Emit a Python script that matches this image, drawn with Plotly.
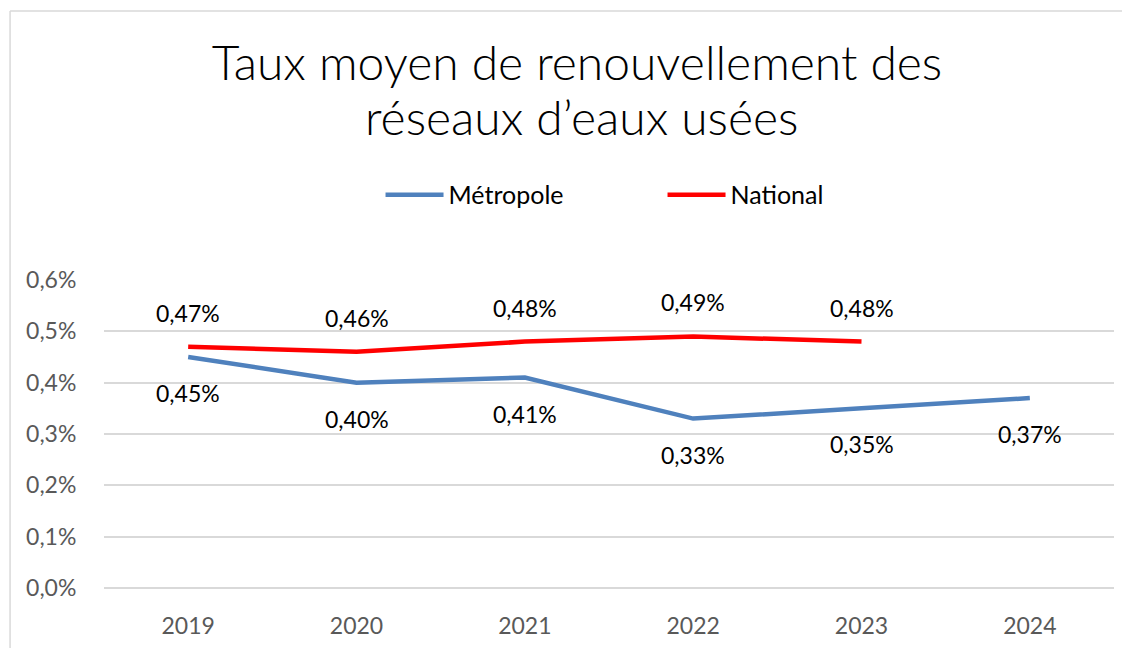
import plotly.graph_objects as go

years = ["2019", "2020", "2021", "2022", "2023", "2024"]
metropole = [0.0045, 0.0040, 0.0041, 0.0033, 0.0035, 0.0037]
national_years = ["2019", "2020", "2021", "2022", "2023"]
national = [0.0047, 0.0046, 0.0048, 0.0049, 0.0048]
y_ticks = [0.0, 0.001, 0.002, 0.003, 0.004, 0.005, 0.006]
title_lines = ["Taux moyen de renouvellement des", "réseaux d’eaux usées"]


def pct(v, d):
    return f"{v*100:.{d}f}%".replace(".", ",")


BLUE = "#4F81BD"
RED = "#FF0000"
FONT = "Lato, Carlito, Calibri, sans-serif"
TITLE_FONT = dict(family="Lato, sans-serif", size=48, color="#000000", weight=300)

fig = go.Figure()
fig.add_trace(go.Scatter(x=years, y=metropole, mode="lines", name="Métropole",
                         line=dict(color=BLUE, width=4.5)))
fig.add_trace(go.Scatter(x=national_years, y=national, mode="lines", name="National",
                         line=dict(color=RED, width=4.5)))

annotations = []
for x, v in zip(years, metropole):
    annotations.append(dict(x=years.index(x), y=v, xref="x", yref="y", text=pct(v, 2),
                            showarrow=False, yshift=-36, font=dict(size=23, color="#000000", family=FONT)))
for x, v in zip(national_years, national):
    annotations.append(dict(x=years.index(x), y=v, xref="x", yref="y", text=pct(v, 2),
                            showarrow=False, yshift=34, font=dict(size=23, color="#000000", family=FONT)))
annotations.append(dict(x=0.4725, y=1.53, xref="paper", yref="paper", text=title_lines[1],
                        showarrow=False, xanchor="center", yanchor="middle", font=TITLE_FONT))

fig.update_layout(
    width=1130, height=648,
    margin=dict(l=96, r=24, t=272, b=68),
    paper_bgcolor="white", plot_bgcolor="white",
    font=dict(family=FONT, size=23, color="#595959"),
    title=dict(text=title_lines[0],
               x=0.5035, xanchor="center", y=0.915, yanchor="middle",
               font=TITLE_FONT),
    showlegend=True,
    legend=dict(orientation="h", x=0.553, xanchor="center", y=1.276, yanchor="middle",
                font=dict(size=25, color="#000000", family=FONT),
                entrywidth=209, entrywidthmode="pixels", itemwidth=58,
                bgcolor="rgba(0,0,0,0)"),
    annotations=annotations,
    shapes=[
        dict(type="line", xref="paper", yref="paper", x0=-0.093, x1=1.03, y0=1.873, y1=1.873,
             line=dict(color="#d9d9d9", width=1.5)),
        dict(type="line", xref="paper", yref="paper", x0=-0.093, x1=-0.093, y0=1.873, y1=-0.3,
             line=dict(color="#d9d9d9", width=1.5)),
    ],
)
fig.update_xaxes(type="category", categoryorder="array", categoryarray=years,
                 range=[-0.5, len(years) - 0.5],
                 showgrid=False, showline=False, ticks="", ticklabelstandoff=22,
                 tickfont=dict(size=23, color="#595959"))
fig.update_yaxes(range=[0, 0.006], tickvals=y_ticks, ticktext=[pct(t, 1) for t in y_ticks],
                 showgrid=True, gridcolor="#d9d9d9", gridwidth=1.5,
                 zeroline=True, zerolinecolor="#d9d9d9", zerolinewidth=1.5,
                 showline=False, ticks="outside", ticklen=22, tickcolor="rgba(0,0,0,0)",
                 tickfont=dict(size=23, color="#595959"))

fig.write_html("out.html")
